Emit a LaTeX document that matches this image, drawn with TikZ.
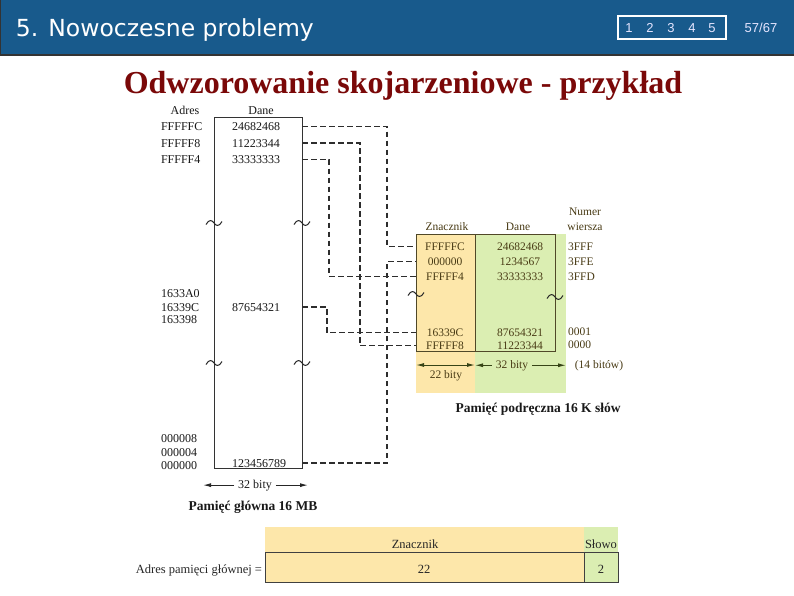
\documentclass[tikz,border=0pt]{standalone}
\usepackage{fontspec}
\setmainfont{Liberation Serif}
\newfontfamily\hdrfont{DejaVu Sans}
\newfontfamily\navfont{Liberation Sans}
\usetikzlibrary{arrows.meta}
\definecolor{hdrblue}{RGB}{24,90,140}
\definecolor{titlered}{RGB}{122,8,8}
\definecolor{cyellow}{RGB}{253,231,170}
\definecolor{cgreen}{RGB}{219,238,178}
\definecolor{ctext}{RGB}{72,58,20}
\definecolor{cline}{RGB}{80,72,40}
\definecolor{carrow}{RGB}{55,68,22}
\definecolor{dline}{RGB}{45,45,45}
\tikzset{
  every node/.style={inner sep=0pt, outer sep=0pt},
  mt/.style={anchor=base, font=\fontsize{12}{14}\selectfont, text=black!90},
  mtl/.style={mt, anchor=base west},
  ct/.style={anchor=base, font=\fontsize{11.5}{13}\selectfont, text=ctext},
  ctl/.style={ct, anchor=base west},
  bt/.style={anchor=base, font=\fontsize{13.5}{15}\selectfont\bfseries, text=black!90},
  bxt/.style={anchor=base, font=\fontsize{12.5}{14}\selectfont, text=black!85},
  dashline/.style={draw=dline, line width=1.2pt, dash pattern=on 5.5pt off 3.5pt},
  marrow/.style={draw=black!85, line width=1pt, -{Latex[length=8pt,width=4pt]}},
  carr/.style={draw=carrow, line width=1pt, -{Latex[length=8pt,width=4pt]}},
  brk/.pic={\draw[line width=1pt, black!85] (-8,1.5) .. controls (-5,-4) and (-2,-3) .. (0,0) .. controls (2,3) and (5,4) .. (8,-1.5);},
}
\begin{document}
\begin{tikzpicture}[x=1pt,y=-1pt]
\useasboundingbox (0,0) rectangle (794,595);
\fill[white] (0,0) rectangle (794,595);
% header
\fill[hdrblue] (0,0) rectangle (794,55);
\draw[black!80, line width=1.5pt] (0,55) -- (794,55);
\draw[black!80, line width=1pt] (0.5,0) -- (0.5,55);
\node[anchor=base west, font=\hdrfont\fontsize{23.5}{26}\selectfont, text=white] (htitle) at (16,36) {5. Nowoczesne problemy};
\node[draw=white, line width=1.8pt, minimum width=108pt, minimum height=23pt, anchor=north west] (nav) at (618,16) {};
\foreach \i/\xx in {1/629,2/650,3/671,4/692,5/712}
  \node[anchor=base, font=\navfont\fontsize{13}{15}\selectfont, text=white!90!blue] (nav\i) at (\xx,32) {\i};
\node[anchor=base, font=\navfont\fontsize{13}{15}\selectfont, text=white!90!blue] (page) at (761,32) {57/67};
% title
\node[anchor=base, font=\fontsize{32}{36}\selectfont\bfseries, text=titlered] (title) at (403,93) {Odwzorowanie skojarzeniowe - przykład};

% main memory
\node[mt] (hadr) at (185,114) {Adres};
\node[mt] (hdane) at (261,114) {Dane};
\node[draw=black!80, line width=1pt, minimum width=88pt, minimum height=351pt, anchor=north west] (mm) at (214,117) {};
\node[mtl] (a1) at (161,130.5) {FFFFFC};
\node[mtl] (a2) at (161,147) {FFFFF8};
\node[mtl] (a3) at (161,163.5) {FFFFF4};
\node[mtl] (a4) at (161,297) {1633A0};
\node[mtl] (a5) at (161,311) {16339C};
\node[mtl] (a6) at (161,323.5) {163398};
\node[mtl] (a7) at (161,442.5) {000008};
\node[mtl] (a8) at (161,456.5) {000004};
\node[mtl] (a9) at (161,469.5) {000000};
\node[mt] (d1) at (256,130.5) {24682468};
\node[mt] (d2) at (256,147) {11223344};
\node[mt] (d3) at (256,163.5) {33333333};
\node[mt] (d4) at (256,311) {87654321};
\node[mt] (d5) at (259,467) {123456789};
\pic at (214,223) {brk};
\pic at (302,223) {brk};
\pic at (214,363) {brk};
\pic at (302,363) {brk};
\node[mt] (m32) at (255,488) {32 bity};
\coordinate (mL) at (203,484);
\coordinate (mR) at (308,484);
\draw[marrow] ([xshift=-4pt]m32.west) -- (m32.west -| mL);
\draw[marrow] ([xshift=4pt]m32.east) -- (m32.east -| mR);
\node[bt] (mcap) at (253,510) {Pamięć główna 16 MB};

% cache
\fill[cyellow] (416,234) rectangle (475,393);
\fill[cgreen] (475,234) rectangle (566,393);
\node[draw=cline, line width=1pt, minimum width=139pt, minimum height=117pt, anchor=north west] (cb) at (416,234) {};
\draw[cline, line width=1pt] (475,234) -- (475,351);
\node[ct] (hz) at (447,230) {Znacznik};
\node[ct] (hd) at (518,230) {Dane};
\node[ct] (hn1) at (585,215) {Numer};
\node[ct] (hn2) at (585,230) {wiersza};
\node[ct] (t1) at (445,250) {FFFFFC};
\node[ct] (t2) at (445,265) {000000};
\node[ct] (t3) at (445,280) {FFFFF4};
\node[ct] (t4) at (445,336.5) {16339C};
\node[ct] (t5) at (445,349.5) {FFFFF8};
\node[ct] (e1) at (520,250) {24682468};
\node[ct] (e2) at (520,265) {1234567};
\node[ct] (e3) at (520,280) {33333333};
\node[ct] (e4) at (520,336.5) {87654321};
\node[ct] (e5) at (520,349.5) {11223344};
\node[ctl] (r1) at (568,250) {3FFF};
\node[ctl] (r2) at (568,265) {3FFE};
\node[ctl] (r3) at (568,280) {3FFD};
\node[ctl] (r4) at (568,335) {0001};
\node[ctl] (r5) at (568,348) {0000};
\pic at (416,294) {brk};
\pic at (555,297) {brk};
\coordinate (cL) at (416,365);
\coordinate (cM) at (475,365);
\coordinate (cR) at (566,365);
\draw[carr, {Latex[length=8pt,width=4pt]}-{Latex[length=8pt,width=4pt]}] (cL) -- (cM);
\node[ct] (c22) at (446,378) {22 bity};
\node[ct] (c32) at (512,368) {32 bity};
\draw[carr] ([xshift=-4pt]c32.west) -- (c32.west -| cM);
\draw[carr] ([xshift=4pt]c32.east) -- (c32.east -| cR);
\node[ct] (c14) at (599,368) {(14 bitów)};
\node[bt] (ccap) at (538,412) {Pamięć podręczna 16 K słów};

% dashed connectors
\draw[dashline] (mm.east |- d1) -- ++(85,0) |- (cb.west |- t1);
\draw[dashline] (mm.east |- d2) -- ++(58,0) |- (cb.west |- t5);
\draw[dashline] (mm.east |- d3) -- ++(27,0) |- (cb.west |- t3);
\draw[dashline] (mm.east |- d4) -- ++(25,0) |- (cb.west |- t4);
\draw[dashline] (mm.east |- d5) -- ++(85,0) |- (cb.west |- t2);

% address format
\fill[cyellow] (265,527) rectangle (584,582);
\fill[cgreen] (584,527) rectangle (618,582);
\node[draw=black!75, line width=1pt, minimum width=353pt, minimum height=30pt, anchor=north west] (ab) at (265,552) {};
\draw[black!75, line width=1pt] (584,552) -- (584,582);
\node[bxt] (bz) at (415,548) {Znacznik};
\node[bxt] (bs) at (601,548) {Słowo};
\node[bxt] (b22) at (424,573) {22};
\node[bxt] (b2) at (601,573) {2};
\node[bxt, anchor=base east] (badr) at (262,573) {Adres pamięci głównej =};
\end{tikzpicture}
\end{document}
